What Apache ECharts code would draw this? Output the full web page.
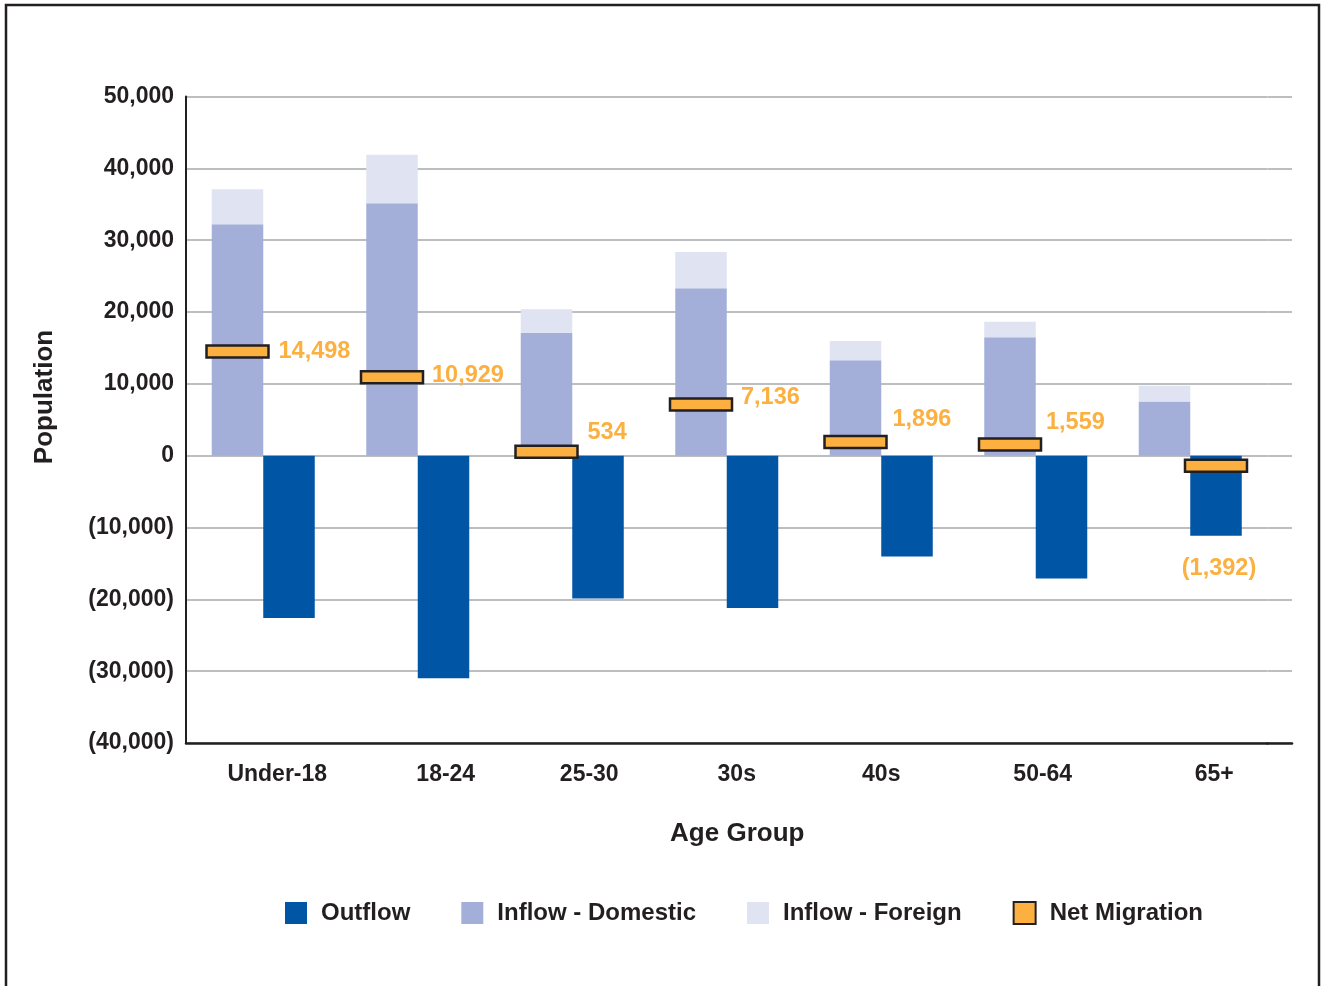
<!DOCTYPE html>
<html>
<head>
<meta charset="utf-8">
<title>Migration by Age Group</title>
<script src="https://cdn.jsdelivr.net/npm/echarts@6/dist/echarts.min.js"></script>
<style>
  html, body { margin: 0; padding: 0; background: #ffffff; }
  #chart { width: 1325px; height: 986px; }
</style>
</head>
<body>
<div id="chart"></div>
<script>
// Age groups along the x axis
const categories = ['Under-18', '18-24', '25-30', '30s', '40s', '50-64', '65+'];
// People leaving (negative) and arriving, by origin
const outflow = [-22600, -30970, -19870, -21210, -14050, -17090, -11140];
const inflowDomestic = [32200, 35150, 17100, 23300, 13300, 16500, 7550];
const inflowForeign = [4900, 6750, 3300, 5050, 2650, 2150, 2200];
// Net migration per age group
const netMigration = [14498, 10929, 534, 7136, 1896, 1559, -1392];
// Value axis range
const yMin = -40000;
const yMax = 50000;
const yStep = 10000;

// Layout and styling
const FONT = '"Liberation Sans", Arial, Helvetica, sans-serif';
const INK = '#231F20';
const GRID_LINE = '#BCBEC0';
const ORANGE = '#FBB040';
const BAR_W = 51.5;
const MARK_W = 62, MARK_H = 12;
const PLOT_LEFT = 186, PLOT_TOP = 96.5, PLOT_H = 646.5;
const PLOT_W = BAR_W * 3 * categories.length;   // bar pair fills 2/3 of each band
const TAIL_W = 1292 - PLOT_LEFT - PLOT_W;        // gridlines run a little past the last band
// horizontal nudges for the category labels
const labelShift = [14, 28, 17, 10, 0, 7, 24];
// net-value label placement relative to its marker: [gap or dx, dy]
const netLabelNudge = [[9, 0], [8, -2], [9, -19], [8, -7], [5, -23], [4, -22], [3, 103]];

function fmt(v) {
  const s = Math.abs(v).toLocaleString('en-US');
  return v < 0 ? '(' + s + ')' : s;
}

const chart = echarts.init(document.getElementById('chart'), null, { renderer: 'canvas' });

const xData = categories.map((c, i) => {
  const s = labelShift[i];
  return {
    value: c,
    textStyle: { padding: s >= 0 ? [0, 0, 0, 2 * s] : [0, -2 * s, 0, 0] }
  };
});

// Net migration marker: sits over the inflow bar when positive, the outflow bar when negative
function renderNet(params, api) {
  const idx = params.dataIndex;
  const v = api.value(1);
  const pt = api.coord([api.value(0), v]);
  const cx = pt[0] + (v >= 0 ? -BAR_W / 2 : BAR_W / 2);
  const cy = pt[1];
  const nudge = netLabelNudge[idx];
  const textStyle = {
    text: fmt(v),
    fontFamily: FONT, fontWeight: 'bold', fontSize: 23.5,
    fill: ORANGE
  };
  let text;
  if (v >= 0) {
    text = {
      type: 'text',
      x: cx + MARK_W / 2 + 1 + nudge[0],
      y: cy + nudge[1],
      style: Object.assign({ align: 'left', verticalAlign: 'middle' }, textStyle)
    };
  } else {
    text = {
      type: 'text',
      x: cx + nudge[0],
      y: cy + nudge[1],
      style: Object.assign({ align: 'center', verticalAlign: 'middle' }, textStyle)
    };
  }
  return {
    type: 'group',
    children: [
      {
        type: 'rect',
        shape: { x: cx - MARK_W / 2, y: cy - MARK_H / 2, width: MARK_W, height: MARK_H },
        style: { fill: ORANGE, stroke: INK, lineWidth: 2.5 }
      },
      text
    ]
  };
}

const option = {
  backgroundColor: '#ffffff',
  animation: false,
  textStyle: { fontFamily: FONT },
  graphic: [
    {
      type: 'rect',
      shape: { x: 6, y: 5, width: 1313, height: 1010 },
      style: { fill: 'none', stroke: INK, lineWidth: 2.5 },
      silent: true
    },
    {
      type: 'text',
      x: 45, y: 397,
      rotation: Math.PI / 2,
      style: {
        text: 'Population',
        fontFamily: FONT, fontWeight: 'bold', fontSize: 26,
        fill: INK, align: 'center', verticalAlign: 'middle'
      }
    }
  ],
  legend: {
    top: 896,
    left: 280,
    icon: 'rect',
    itemWidth: 22,
    itemHeight: 22,
    itemGap: 51,
    data: ['Outflow', 'Inflow - Domestic', 'Inflow - Foreign', 'Net Migration'],
    textStyle: {
      fontFamily: FONT, fontWeight: 'bold', fontSize: 24, color: INK,
      padding: [0, 0, 0, 9]
    }
  },
  grid: [
    { left: PLOT_LEFT, top: PLOT_TOP, width: PLOT_W, height: PLOT_H, containLabel: false },
    { left: PLOT_LEFT + PLOT_W, top: PLOT_TOP, width: TAIL_W, height: PLOT_H, containLabel: false }
  ],
  xAxis: [
    {
      type: 'category',
      gridIndex: 0,
      data: xData,
      axisLine: { show: true, onZero: false, lineStyle: { color: INK, width: 2.5 } },
      axisTick: { show: false },
      axisLabel: {
        margin: 20,
        interval: 0,
        fontFamily: FONT, fontWeight: 'bold', fontSize: 23, color: INK
      },
      name: 'Age Group',
      nameLocation: 'middle',
      nameGap: 78,
      nameTextStyle: {
        fontFamily: FONT, fontWeight: 'bold', fontSize: 26, color: INK,
        padding: [0, 0, 0, 21]
      }
    },
    {
      type: 'category',
      gridIndex: 1,
      data: [''],
      axisLine: { show: true, onZero: false, lineStyle: { color: INK, width: 2.5 } },
      axisTick: { show: false },
      axisLabel: { show: false }
    }
  ],
  yAxis: [
    {
      type: 'value',
      gridIndex: 0,
      min: yMin, max: yMax, interval: yStep,
      axisLine: { show: true, lineStyle: { color: INK, width: 2 } },
      axisTick: { show: false },
      splitLine: { show: true, lineStyle: { color: GRID_LINE, width: 2 } },
      axisLabel: {
        margin: 12,
        formatter: fmt,
        fontFamily: FONT, fontWeight: 'bold', fontSize: 23, color: INK
      }
    },
    {
      type: 'value',
      gridIndex: 1,
      min: yMin, max: yMax, interval: yStep,
      axisLine: { show: false },
      axisTick: { show: false },
      axisLabel: { show: false },
      splitLine: { show: true, lineStyle: { color: GRID_LINE, width: 2 } }
    }
  ],
  series: [
    {
      name: 'Inflow - Domestic',
      type: 'bar',
      stack: 'in',
      barWidth: BAR_W,
      barGap: '0%',
      data: inflowDomestic,
      itemStyle: { color: '#A4AFD9' }
    },
    {
      name: 'Inflow - Foreign',
      type: 'bar',
      stack: 'in',
      barWidth: BAR_W,
      barGap: '0%',
      data: inflowForeign,
      itemStyle: { color: '#DFE3F2' }
    },
    {
      name: 'Outflow',
      type: 'bar',
      stack: 'out',
      barWidth: BAR_W,
      barGap: '0%',
      data: outflow,
      itemStyle: { color: '#0055A5' }
    },
    {
      name: 'Net Migration',
      type: 'custom',
      z: 5,
      encode: { x: 0, y: 1 },
      data: netMigration.map((v, i) => [i, v]),
      renderItem: renderNet,
      itemStyle: { color: ORANGE, borderColor: INK, borderWidth: 2 },
      emphasis: { disabled: true }
    }
  ]
};

chart.setOption(option);
</script>
</body>
</html>
